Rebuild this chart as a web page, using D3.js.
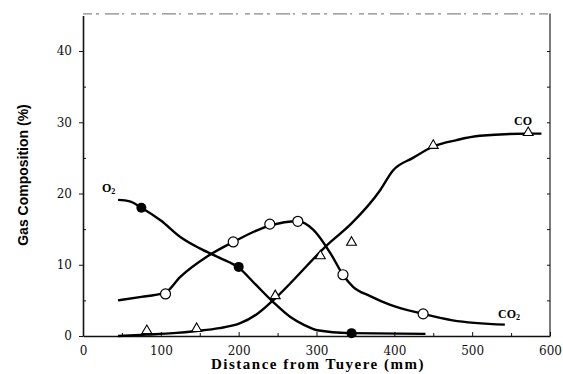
<!DOCTYPE html>
<html>
<head>
<meta charset="utf-8">
<script src="https://cdn.jsdelivr.net/npm/d3@7"></script>
<style>
  body { margin: 0; background: #fff; }
  .tick text { font-family: "DejaVu Serif", serif; font-size: 12px; fill: #111; }
  .axis path, .axis line { stroke: #111; }
</style>
</head>
<body>
<div id="chart-area"></div>
<script>
/** Data **/
const xTicks = [0, 100, 200, 300, 400, 500, 600];
const yTicks = [0, 10, 20, 30, 40];

// O2 (filled circles)
const o2Line   = [[45,19.1],[60,18.9],[75,18.0],[100,16.2],[125,13.9],[150,12.3],[175,11.0],[200,9.6],
                  [222,7.2],[244,4.8],[266,2.7],[285,1.5],[301,0.8],[343,0.4],[440,0.3]];
const o2Points = [[75,18.0],[200,9.7],[345,0.4]];

// CO2 (open circles)
const co2Line   = [[45,5.0],[75,5.5],[100,5.9],[106,6.1],[125,8.3],[160,11.2],[193,13.2],[240,15.5],
                   [276,16.1],[296,14.9],[318,11.6],[334,8.6],[347,6.9],[369,5.6],[394,4.4],
                   [437,3.1],[475,2.2],[542,1.6]];
const co2Points = [[106,5.9],[193,13.2],[240,15.7],[276,16.1],[334,8.6],[437,3.1]];

// CO (open triangles)
const coLine   = [[45,0.0],[82,0.2],[116,0.4],[146,0.7],[175,1.1],[202,1.8],[225,3.2],[247,5.3],
                  [315,12.9],[345,15.8],[382,20.5],[398,23.2],[424,25.0],[450,26.6],[480,27.5],
                  [510,28.1],[572,28.4],[589,28.4]];
const coPoints = [[82,0.6],[146,0.9],[247,5.5],[305,11.1],[345,13.0],[450,26.6],[572,28.4]];


/** SVG **/
const W = 563, H = 374;
const svg = d3.select('#chart-area').append('svg')
    .attr('width', W).attr('height', H);

const x = d3.scaleLinear().domain([0, 600]).range([83, 550]);
const y = d3.scaleLinear().domain([0, 45]).range([336, 15.4]);


/* Frame (right side + broken top line from the scan) */
svg.append('line')
    .attr('x1', x(600)).attr('x2', x(600)).attr('y1', y(45) - 2).attr('y2', y(0))
    .attr('stroke', '#222').attr('stroke-width', 1.2);
svg.append('line')
    .attr('x1', x(0)).attr('x2', x(600)).attr('y1', y(45) - 1.5).attr('y2', y(45) - 1.5)
    .attr('stroke', '#888').attr('stroke-width', 1.2)
    .attr('stroke-dasharray', '9,4,3,6,14,3,2,7,5,4');


/* Axis */
const xAxis = svg.append('g').attr('class', 'x axis')
    .attr('transform', `translate(0,${y(0)})`)
    .call(d3.axisBottom(x).tickValues(xTicks).tickSizeInner(-4).tickSizeOuter(0).tickPadding(10));
xAxis.select('.domain').attr('stroke-width', 1.6);

svg.append('g').attr('class', 'x axis minor')
    .attr('transform', `translate(0,${y(0)})`)
    .call(d3.axisBottom(x).tickValues(d3.range(50, 600, 100)).tickSize(-3).tickFormat(''))
    .select('.domain').remove();

const yAxis = svg.append('g').attr('class', 'y axis')
    .attr('transform', `translate(${x(0)},0)`)
    .call(d3.axisLeft(y).tickValues(yTicks).tickSizeInner(4).tickSizeOuter(0).tickPadding(7));
yAxis.select('.domain').attr('stroke-width', 1.6);
yAxis.selectAll('.tick text').attr('font-size', '13px');

svg.append('g').attr('class', 'y axis minor')
    .attr('transform', `translate(${x(0)},0)`)
    .call(d3.axisLeft(y).tickValues(d3.range(5, 45, 10)).tickSize(-3).tickFormat(''))
    .select('.domain').remove();

// small ticks on the right edge
svg.append('g').attr('class', 'y axis minor')
    .attr('transform', `translate(${x(600)},0)`)
    .call(d3.axisRight(y).tickValues(d3.range(5, 45, 5)).tickSize(-3).tickFormat(''))
    .select('.domain').remove();


/* Labels */
svg.append('text')
    .attr('x', 318).attr('y', 369)
    .attr('text-anchor', 'middle')
    .attr('font-family', '"Liberation Serif", serif').attr('font-weight', 'bold')
    .attr('font-size', '15px').attr('letter-spacing', '1.5px')
    .text('Distance from Tuyere (mm)');

svg.append('text')
    .attr('transform', 'translate(28,175) rotate(-90)')
    .attr('text-anchor', 'middle')
    .attr('font-family', '"Liberation Sans", Arial, sans-serif').attr('font-weight', 'bold')
    .attr('font-size', '14px')
    .text('Gas Composition (%)');


/** Lines **/
const line = d3.line()
    .x(d => x(d[0]))
    .y(d => y(d[1]))
    .curve(d3.curveMonotoneX);

[o2Line, co2Line, coLine].forEach(data => {
    svg.append('path')
        .attr('d', line(data))
        .attr('fill', 'none')
        .attr('stroke', '#000')
        .attr('stroke-width', 2.4)
        .attr('stroke-linejoin', 'round');
});


/** Markers **/
svg.selectAll('.o2').data(o2Points).enter().append('circle')
    .attr('class', 'o2')
    .attr('cx', d => x(d[0])).attr('cy', d => y(d[1])).attr('r', 5)
    .attr('fill', '#000');

svg.selectAll('.co2').data(co2Points).enter().append('circle')
    .attr('class', 'co2')
    .attr('cx', d => x(d[0])).attr('cy', d => y(d[1])).attr('r', 5)
    .attr('fill', '#fff').attr('stroke', '#000').attr('stroke-width', 1.2);

const tri = d3.symbol().type(d3.symbolTriangle).size(42);
svg.selectAll('.co').data(coPoints).enter().append('path')
    .attr('class', 'co')
    .attr('transform', d => `translate(${x(d[0])},${y(d[1]) - 1})`)
    .attr('d', tri)
    .attr('fill', '#fff').attr('stroke', '#000').attr('stroke-width', 1.1);


/** Series names **/
const names = [
    { base: 'O', sub: '2', px: 102, py: 192 },
    { base: 'CO', sub: '',  px: 514, py: 125 },
    { base: 'CO', sub: '2', px: 498, py: 318 }
];
names.forEach(n => {
    const t = svg.append('text')
        .attr('x', n.px).attr('y', n.py)
        .attr('font-family', '"Liberation Serif", serif').attr('font-weight', 'bold')
        .attr('font-size', '12px');
    t.append('tspan').text(n.base);
    if (n.sub) t.append('tspan').attr('font-size', '8px').attr('dy', 2).text(n.sub);
});
</script>
</body>
</html>
